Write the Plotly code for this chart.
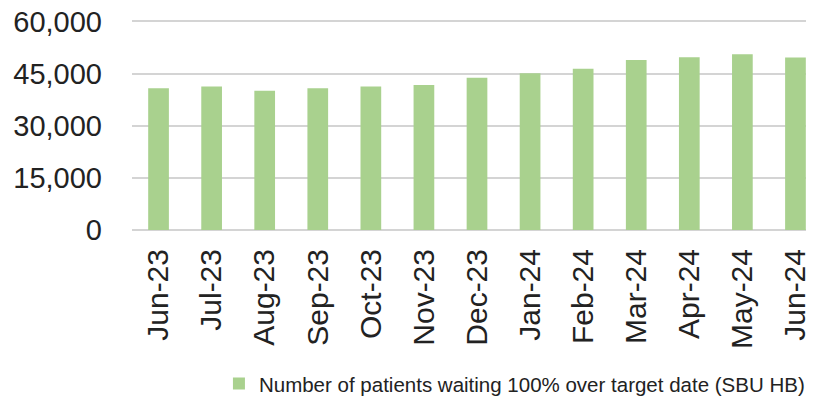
import plotly.graph_objects as go

months = ["Jun-23", "Jul-23", "Aug-23", "Sep-23", "Oct-23", "Nov-23", "Dec-23",
          "Jan-24", "Feb-24", "Mar-24", "Apr-24", "May-24", "Jun-24"]
patients_waiting = [40800, 41300, 40100, 40800, 41300, 41700, 43800,
                    45100, 46400, 48900, 49700, 50600, 49600]
y_ticks = [0, 15000, 30000, 45000, 60000]
y_tick_labels = ["0", "15,000", "30,000", "45,000", "60,000"]

series_name = "Number of patients waiting 100% over target date (SBU HB)"
font_family = "Liberation Sans, Arial, sans-serif"
text_color = "#222222"
grid_color = "#d4d4d4"

fig = go.Figure()

# bars
fig.add_trace(go.Bar(
    x=months,
    y=patients_waiting,
    name=series_name,
    width=0.39,
    marker={"color": "#a9d18e", "line": {"width": 0}},
    showlegend=True,
))

fig.update_layout(
    width=814,
    height=408,
    autosize=False,
    # page body adds 8px, plot area fixed so legend / labels do not push it
    margin={"l": 124, "r": 0, "t": 9.5, "b": 186, "autoexpand": False},
    paper_bgcolor="white",
    plot_bgcolor="white",
    font={"family": font_family, "color": text_color},
    legend={
        "orientation": "h",
        "x": 0.126,
        "xanchor": "left",
        "y": -0.725,
        "yanchor": "middle",
        "font": {"size": 20.5, "color": text_color},
        "itemwidth": 30,
    },
)

# y axis: 0 - 60,000 with 15,000 steps (a bit of headroom so the top grid shows)
fig.update_yaxes(
    range=[0, 61000],
    tickvals=y_ticks,
    ticktext=y_tick_labels,
    tickfont={"size": 29, "color": text_color},
    showgrid=True,
    gridcolor=grid_color,
    gridwidth=1.5,
    zeroline=True,
    zerolinecolor=grid_color,
    zerolinewidth=1.5,
    showline=False,
    ticks="",
    automargin=False,
    ticklabeloverflow="allow",
    ticklabelstandoff=29,
)

# x axis
fig.update_xaxes(
    range=[-0.5, 12.5],
    tickangle=-90,
    tickfont={"size": 30, "color": text_color},
    showgrid=False,
    showline=False,
    ticks="",
    automargin=False,
    ticklabeloverflow="allow",
    ticklabelstandoff=12,
)

fig.write_html("out.html")
